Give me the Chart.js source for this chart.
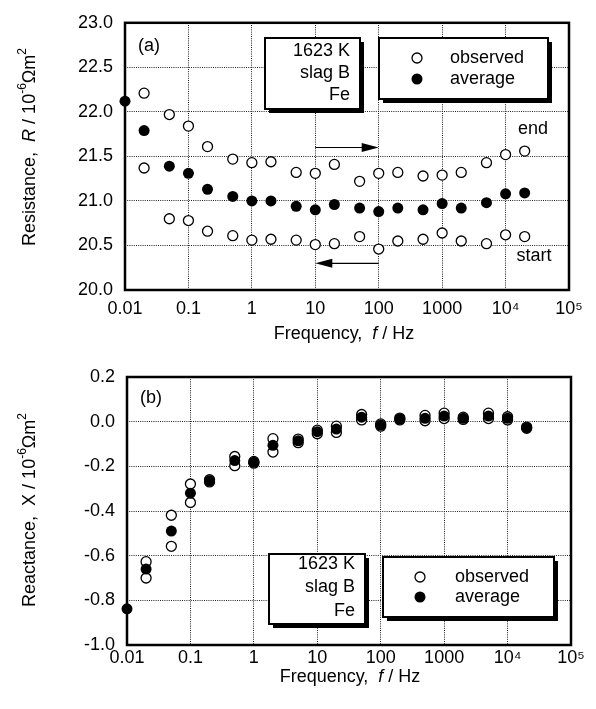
<!DOCTYPE html>
<html>
<head>
<meta charset="utf-8">
<script src="https://cdn.jsdelivr.net/npm/chart.js@4"></script>
<style>
	body { margin: 0; background: #fff; }
	canvas { position: absolute; left: 0; }
</style>
</head>
<body>
<canvas id="chart-r" width="596" height="345" style="top:0px"></canvas>
<canvas id="chart-x" width="596" height="364" style="top:345px"></canvas>
<script>
const FONT = "'Liberation Sans', Arial, Helvetica, sans-serif";

// frequencies, Hz
const freq = [0.01, 0.02, 0.05, 0.1, 0.2, 0.5, 1, 2, 5, 10, 20, 50, 100, 200, 500, 1000, 2000, 5000, 10000, 20000];

// (a) resistance, 10^-6 ohm m2
const rAverage = [22.12, 21.79, 21.39, 21.31, 21.13, 21.05, 21.0, 21.0, 20.94, 20.9, 20.96, 20.92, 20.88, 20.92, 20.9, 20.97, 20.92, 20.98, 21.08, 21.09];
const rEnd = [null, 22.21, 21.97, 21.84, 21.61, 21.47, 21.43, 21.44, 21.32, 21.31, 21.41, 21.22, 21.31, 21.32, 21.28, 21.29, 21.32, 21.43, 21.52, 21.56];
const rStart = [null, 21.37, 20.8, 20.78, 20.66, 20.61, 20.56, 20.57, 20.56, 20.51, 20.52, 20.6, 20.46, 20.55, 20.57, 20.64, 20.55, 20.52, 20.62, 20.6];

// (b) reactance, 10^-6 ohm m2
const xAverage = [-0.838, -0.66, -0.49, -0.32, -0.265, -0.174, -0.182, -0.106, -0.086, -0.045, -0.033, 0.02, -0.015, 0.012, 0.015, 0.025, 0.015, 0.025, 0.015, -0.027];
const xObsA = [null, -0.627, -0.419, -0.279, -0.26, -0.156, -0.178, -0.076, -0.078, -0.038, -0.02, 0.032, -0.01, 0.016, 0.028, 0.038, 0.02, 0.038, 0.022, -0.024];
const xObsB = [null, -0.7, -0.558, -0.362, -0.27, -0.197, -0.186, -0.136, -0.094, -0.054, -0.048, 0.008, -0.02, 0.008, 0.004, 0.014, 0.01, 0.014, 0.008, -0.03];

// tick labels
const freqTicks = [0.01, 0.1, 1, 10, 100, 1000, 1e4, 1e5];
const freqTickLabels = ["0.01", "0.1", "1", "10", "100", "1000", "10\u2074", "10\u2075"];
const rTicks = [20.0, 20.5, 21.0, 21.5, 22.0, 22.5, 23.0];
const xTicks = [-1.0, -0.8, -0.6, -0.4, -0.2, 0.0, 0.2];

function pts(ys) {
	return freq.map((f, i) => ({ x: f, y: ys[i] })).filter((p) => p.y !== null);
}

function richText(ctx, parts, x, y, rot) {
	ctx.save();
	ctx.translate(x, y);
	ctx.rotate(rot || 0);
	ctx.fillStyle = "#000";
	ctx.textBaseline = "middle";
	ctx.textAlign = "left";
	const fonts = parts.map((p) => (p.i ? "italic " : "") + (p.s ? "12px " : "18px ") + FONT);
	let w = 0;
	parts.forEach((p, k) => {
		ctx.font = fonts[k];
		w += ctx.measureText(p.t).width;
	});
	let cx = -w / 2;
	parts.forEach((p, k) => {
		ctx.font = fonts[k];
		ctx.fillText(p.t, cx, p.s ? -7 : 0);
		cx += ctx.measureText(p.t).width;
	});
	ctx.restore();
}

function shadowBox(ctx, x, y, w, h) {
	ctx.save();
	ctx.fillStyle = "#000";
	ctx.fillRect(x + 4, y + 4, w, h);
	ctx.fillStyle = "#fff";
	ctx.fillRect(x, y, w, h);
	ctx.lineWidth = 2;
	ctx.strokeStyle = "#000";
	ctx.strokeRect(x, y, w, h);
	ctx.restore();
}

function condBox(ctx, x, y, w, h, right, ys) {
	shadowBox(ctx, x, y, w, h);
	ctx.save();
	ctx.fillStyle = "#000";
	ctx.font = "18px " + FONT;
	ctx.textAlign = "right";
	ctx.textBaseline = "middle";
	["1623 K", "slag B", "Fe"].forEach((t, k) => ctx.fillText(t, right, ys[k]));
	ctx.restore();
}

function legendBox(ctx, x, y, w, h, sx, tx, y1, y2) {
	shadowBox(ctx, x, y, w, h);
	ctx.save();
	ctx.lineWidth = 1.3;
	ctx.strokeStyle = "#000";
	ctx.fillStyle = "#fff";
	ctx.beginPath();
	ctx.arc(sx, y1, 5, 0, Math.PI * 2);
	ctx.fill();
	ctx.stroke();
	ctx.fillStyle = "#000";
	ctx.beginPath();
	ctx.arc(sx, y2, 5.5, 0, Math.PI * 2);
	ctx.fill();
	ctx.font = "18px " + FONT;
	ctx.textAlign = "left";
	ctx.textBaseline = "middle";
	ctx.fillText("observed", tx, y1);
	ctx.fillText("average", tx, y2);
	ctx.restore();
}

function arrow(ctx, x1, x2, y) {
	const dir = x2 > x1 ? 1 : -1;
	ctx.save();
	ctx.strokeStyle = "#000";
	ctx.fillStyle = "#000";
	ctx.lineWidth = 1.2;
	ctx.beginPath();
	ctx.moveTo(x1, y);
	ctx.lineTo(x2 - dir * 12, y);
	ctx.stroke();
	ctx.beginPath();
	ctx.moveTo(x2, y);
	ctx.lineTo(x2 - dir * 17, y - 4.5);
	ctx.lineTo(x2 - dir * 17, y + 4.5);
	ctx.closePath();
	ctx.fill();
	ctx.restore();
}

function frame(chart) {
	const a = chart.chartArea;
	const ctx = chart.ctx;
	ctx.save();
	ctx.strokeStyle = "#000";
	ctx.lineWidth = 2.5;
	ctx.strokeRect(a.left, a.top, a.right - a.left, a.bottom - a.top);
	ctx.restore();
}

const openPt = {
	showLine: false,
	clip: false,
	pointRadius: 5,
	pointBorderWidth: 1.3,
	pointBackgroundColor: "#fff",
	pointBorderColor: "#000",
};
const fullPt = {
	showLine: false,
	clip: false,
	pointRadius: 5.5,
	pointBorderWidth: 0,
	pointBackgroundColor: "#000",
	pointBorderColor: "#000",
};

function scales(yTicks, yMin, yMax, yWidth, xHeight, xPad) {
	return {
		x: {
			type: "logarithmic",
			min: 0.01,
			max: 1e5,
			afterBuildTicks: (s) => { s.ticks = freqTicks.map((v) => ({ value: v })); },
			afterFit: (s) => { s.height = xHeight; },
			grid: { color: "#222", lineWidth: 1, drawTicks: false },
			border: { display: false, dash: [1, 1.2] },
			ticks: {
				color: "#000",
				padding: xPad,
				autoSkip: false,
				maxRotation: 0,
				font: { family: FONT, size: 18 },
				callback: (v, i) => freqTickLabels[i],
			},
		},
		y: {
			type: "linear",
			min: yMin,
			max: yMax,
			afterBuildTicks: (s) => { s.ticks = yTicks.map((v) => ({ value: v })); },
			afterFit: (s) => { s.width = yWidth; },
			grid: { color: "#222", lineWidth: 1, drawTicks: false },
			border: { display: false, dash: [1, 1.2] },
			ticks: {
				color: "#000",
				padding: 12,
				font: { family: FONT, size: 18 },
				callback: (v) => (Math.abs(v) < 1e-9 ? "0.0" : v.toFixed(1)),
			},
		},
	};
}

const commonPlugins = {
	legend: { display: false },
	tooltip: { enabled: false },
};

var chartR = new Chart(document.getElementById("chart-r").getContext("2d"), {
	type: "scatter",
	data: {
		datasets: [
			Object.assign({ label: "average", data: pts(rAverage) }, fullPt),
			Object.assign({ label: "observed (end)", data: pts(rEnd) }, openPt),
			Object.assign({ label: "observed (start)", data: pts(rStart) }, openPt),
		],
	},
	options: {
		responsive: false,
		animation: false,
		events: [],
		layout: { padding: { top: 21, right: 27, left: 0, bottom: 0 } },
		scales: scales(rTicks, 20, 23, 125, 55, 8),
		plugins: commonPlugins,
	},
	plugins: [
		{
			id: "decorR",
			beforeDatasetsDraw: function (chart) {
				frame(chart);
			},
			afterDatasetsDraw: function (chart) {
				const ctx = chart.ctx;
				const sx = chart.scales.x;
				const sy = chart.scales.y;
				condBox(ctx, 265, 38, 95, 71, 350, [51, 73, 95]);
				legendBox(ctx, 379, 38, 169, 61, 417, 450, 58, 79);
				arrow(ctx, sx.getPixelForValue(10), sx.getPixelForValue(100), sy.getPixelForValue(21.6));
				arrow(ctx, sx.getPixelForValue(100), sx.getPixelForValue(10), sy.getPixelForValue(20.3));
				ctx.save();
				ctx.fillStyle = "#000";
				ctx.font = "18px " + FONT;
				ctx.textAlign = "center";
				ctx.textBaseline = "middle";
				ctx.fillText("(a)", 149, 46);
				ctx.fillText("end", 533, 129);
				ctx.fillText("start", 534, 256);
				ctx.restore();
				richText(ctx, [{ t: "Frequency,  " }, { t: "f", i: true }, { t: " / Hz" }], 344, 334);
				richText(ctx, [{ t: "Resistance,  " }, { t: "R", i: true }, { t: " / 10" }, { t: "-6", s: true }, { t: "\u03A9m" }, { t: "2", s: true }], 30, 147, -Math.PI / 2);
			},
		},
	],
});

var chartX = new Chart(document.getElementById("chart-x").getContext("2d"), {
	type: "scatter",
	data: {
		datasets: [
			Object.assign({ label: "average", data: pts(xAverage) }, fullPt),
			Object.assign({ label: "observed", data: pts(xObsA) }, openPt),
			Object.assign({ label: "observed", data: pts(xObsB) }, openPt),
		],
	},
	options: {
		responsive: false,
		animation: false,
		events: [],
		layout: { padding: { top: 32, right: 25, left: 0, bottom: 0 } },
		scales: scales(xTicks, -1.0, 0.2, 127, 64, 2),
		plugins: commonPlugins,
	},
	plugins: [
		{
			id: "decorX",
			beforeDatasetsDraw: function (chart) {
				frame(chart);
			},
			afterDatasetsDraw: function (chart) {
				const ctx = chart.ctx;
				condBox(ctx, 269, 209, 96, 70, 355, [219, 242, 266]);
				legendBox(ctx, 383, 212, 171, 60, 420, 455, 232, 252);
				ctx.save();
				ctx.fillStyle = "#000";
				ctx.font = "18px " + FONT;
				ctx.textAlign = "center";
				ctx.textBaseline = "middle";
				ctx.fillText("(b)", 151, 53);
				ctx.restore();
				richText(ctx, [{ t: "Frequency,  " }, { t: "f", i: true }, { t: " / Hz" }], 350, 332);
				richText(ctx, [{ t: "Reactance,  " }, { t: "X", i: false }, { t: " / 10" }, { t: "-6", s: true }, { t: "\u03A9m" }, { t: "2", s: true }], 30, 165, -Math.PI / 2);
			},
		},
	],
});
</script>
</body>
</html>
